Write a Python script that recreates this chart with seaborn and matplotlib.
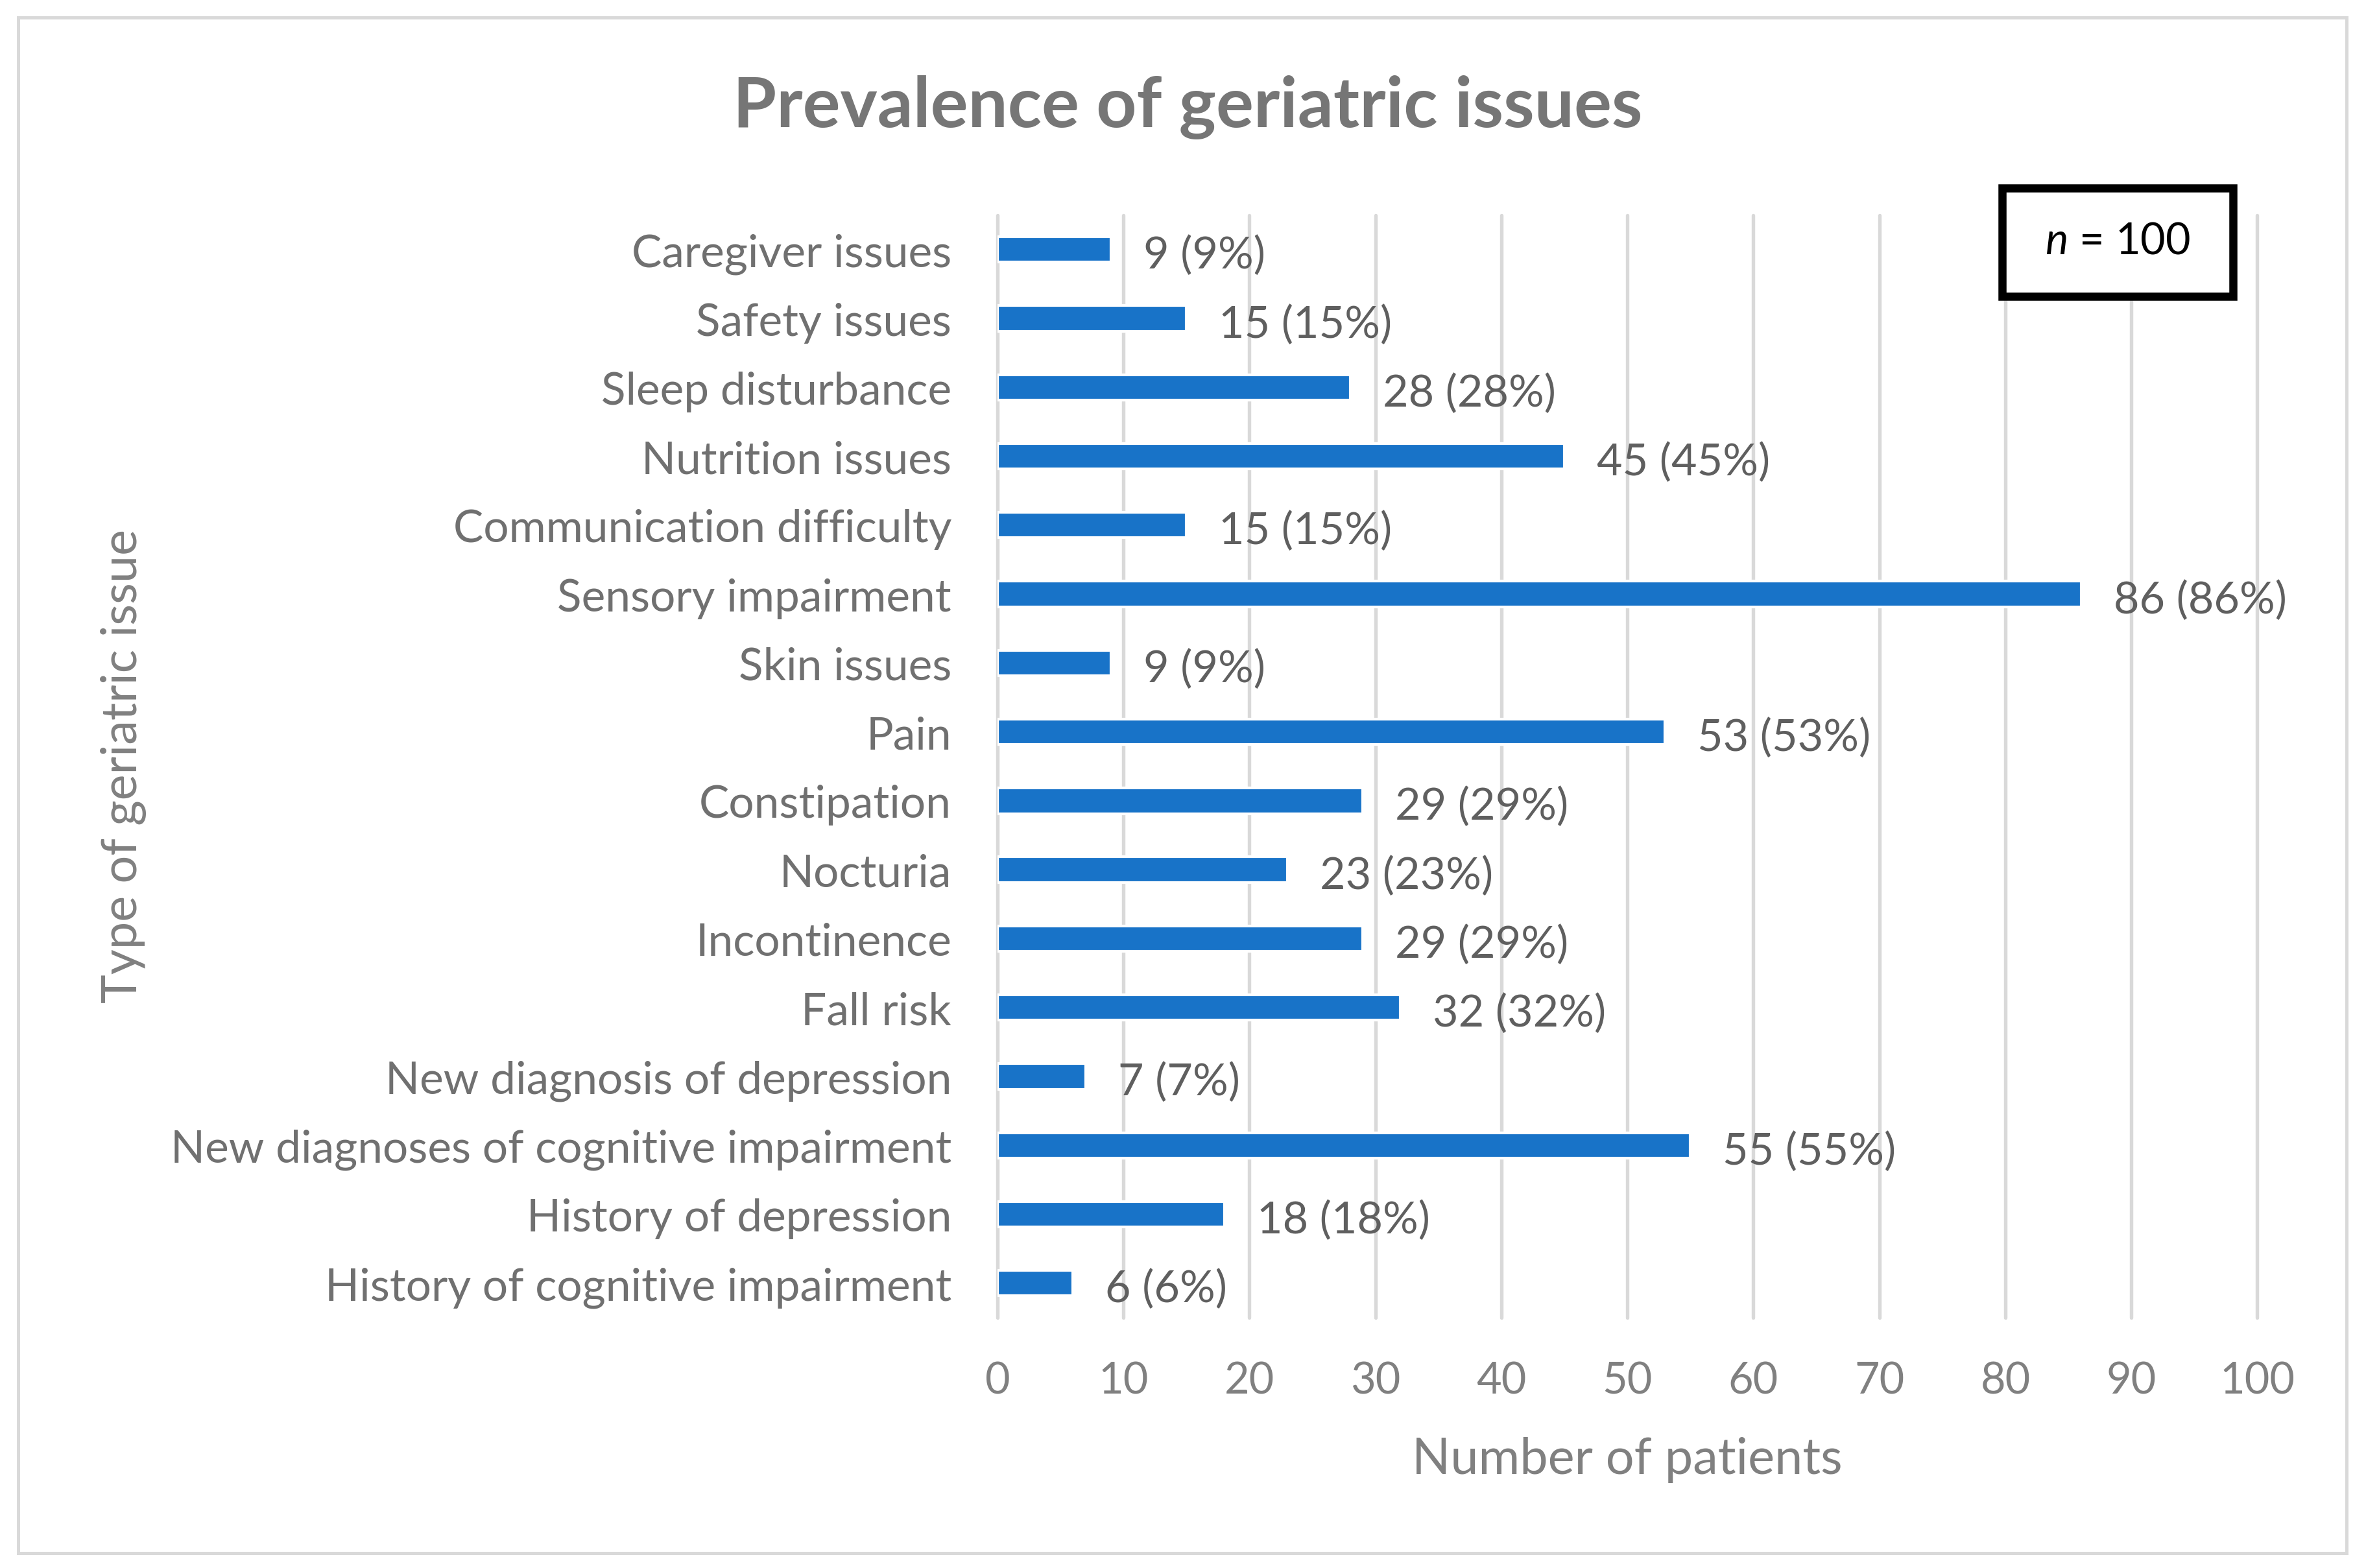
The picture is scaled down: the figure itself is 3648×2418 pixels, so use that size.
import matplotlib
matplotlib.use('Agg')
import matplotlib.pyplot as plt
import seaborn as sns
import pandas as pd
from matplotlib.patches import Rectangle

categories = [
    "Caregiver issues",
    "Safety issues",
    "Sleep disturbance",
    "Nutrition issues",
    "Communication difficulty",
    "Sensory impairment",
    "Skin issues",
    "Pain",
    "Constipation",
    "Nocturia",
    "Incontinence",
    "Fall risk",
    "New diagnosis of depression",
    "New diagnoses of cognitive impairment",
    "History of depression",
    "History of cognitive impairment",
]
counts = [9, 15, 28, 45, 15, 86, 9, 53, 29, 23, 29, 32, 7, 55, 18, 6]
n_total = 100
x_ticks = list(range(0, 101, 10))

sns.set_theme(style='white')
plt.rcParams['font.family'] = ['Lato', 'DejaVu Sans']
plt.rcParams['mathtext.fontset'] = 'custom'
plt.rcParams['mathtext.it'] = 'Lato:italic'
plt.rcParams['mathtext.rm'] = 'Lato'

W, H = 1568.0, 1040.0
fig = plt.figure(figsize=(12.16, 8.0633), dpi=300)
fig.patch.set_facecolor('white')

left, right = 661 / W, 1496 / W
top, bottom = 1 - 143 / H, 1 - 874 / H
ax = fig.add_axes([left, bottom, right - left, top - bottom])

df = pd.DataFrame({'Issue': categories, 'Count': counts})
sns.barplot(data=df, x='Count', y='Issue', color='#1873C8', saturation=1,
            width=0.37, orient='h', ax=ax)

ax.set_xlim(0, 100)
ax.set_ylim(len(categories) - 0.5, -0.5)
ax.set_xticks(x_ticks)
ax.grid(axis='x', color='#d9d9d9', linewidth=1.3)
ax.grid(axis='y', visible=False)
for gl in ax.get_xgridlines():
    gl.set_clip_on(False)
ax.set_axisbelow(True)
for s in ax.spines.values():
    s.set_visible(False)
ax.tick_params(axis='both', length=0)
ax.tick_params(axis='y', pad=17, labelsize=16.7, labelcolor='#707070')
ax.tick_params(axis='x', pad=16, labelsize=16, labelcolor='#808080')
ax.set_xlabel('')
ax.set_ylabel('')

labels = [f"{c} ({round(c / n_total * 100)}%)" for c in counts]
for i, (c, lab) in enumerate(zip(counts, labels)):
    ax.annotate(lab, xy=(c, i), xytext=(12, -2.2), textcoords='offset points',
                ha='left', va='center', fontsize=16.4, color='#5f5f5f',
                annotation_clip=False)

fig.text(787 / W, 1 - 71 / H, 'Prevalence of geriatric issues', ha='center',
         va='center', fontsize=26, fontweight='bold', color='#767676')
fig.text((left + right) / 2, 1 - 968 / H, 'Number of patients', ha='center',
         va='center', fontsize=18.6, color='#808080')
fig.text(82 / W, 1 - 508 / H, 'Type of geriatric issue', ha='center',
         va='center', rotation=90, fontsize=18.2, color='#808080')

# n box
bx0, bx1 = 1327 / W, 1480 / W
by0, by1 = 1 - 197 / H, 1 - 125 / H
fig.patches.append(Rectangle((bx0, by0), bx1 - bx0, by1 - by0, transform=fig.transFigure,
                             facecolor='white', edgecolor='black', linewidth=3.0, zorder=5))
fig.text((bx0 + bx1) / 2, 1 - 160 / H, f'$n$ = {n_total}', ha='center', va='center',
         fontsize=16, color='black', zorder=6)

# outer border
fig.patches.append(Rectangle((12 / W, 1 - 1030 / H), (1555 - 12) / W, (1030 - 12) / H,
                             transform=fig.transFigure, facecolor='none',
                             edgecolor='#d9d9d9', linewidth=1.2))

fig.savefig('out.png', dpi=300, facecolor='white')
